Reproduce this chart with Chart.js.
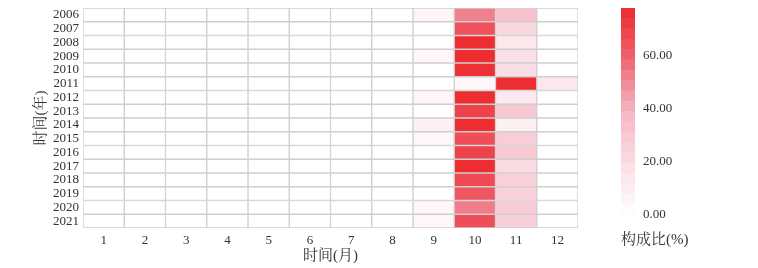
<!DOCTYPE html>
<html><head><meta charset="utf-8">
<script src="https://cdn.jsdelivr.net/npm/chart.js@4/dist/chart.umd.min.js"></script>
<style>
html,body{margin:0;padding:0;background:#fff;}
#wrap{position:relative;width:758px;height:268px;}
#main{position:absolute;left:0;top:0;}
#bar{position:absolute;left:600px;top:0;}
</style></head><body>
<div id="wrap">
<canvas id="main" width="600" height="268"></canvas>
<canvas id="bar" width="158" height="268"></canvas>
</div>
<script>
const years = ['2006','2007','2008','2009','2010','2011','2012','2013','2014','2015','2016','2017','2018','2019','2020','2021'];
const months = ['1','2','3','4','5','6','7','8','9','10','11','12'];
const janToAug = [0,0,0,0,0,0,0,0,0,0,0,0,0,0,0,0];
const sep = [6,0,0,5,0,0,5,0,8,5,0,0,0,0,5,5];
const oct = [52,65,77,77,76,5,77,70,77,66,70,77,67,63,53,66];
const nov = [33,22,14,18,18,77,13,30,9,27,29,20,25,25,27,26];
const dec = [0,0,0,0,0,14,0,0,0,0,0,0,0,0,0,0];
const colorbarTicks = [0,20,40,60];
const colorMax = 78;
const colorSteps = 20;

const monthValues = [janToAug,janToAug,janToAug,janToAug,janToAug,janToAug,janToAug,janToAug,sep,oct,nov,dec];

const stops = [[0,[255,255,255]],[0.15,[252,235,240]],[0.5,[245,182,195]],[0.77,[239,95,108]],[1,[238,42,46]]];
function colorFor(v){
  let t = Math.max(0, Math.min(1, v/colorMax));
  for (let i=1;i<stops.length;i++){
    if (t <= stops[i][0]){
      const a = stops[i-1], b = stops[i];
      const f = (t-a[0])/(b[0]-a[0]);
      const c = a[1].map((x,k)=>Math.round(x+(b[1][k]-x)*f));
      return `rgb(${c[0]},${c[1]},${c[2]})`;
    }
  }
  return 'rgb(238,42,46)';
}

const FONT = "'Liberation Serif','Noto Serif CJK SC','Noto Sans CJK SC',serif";
Chart.defaults.font.family = FONT;
Chart.defaults.font.size = 13;
Chart.defaults.color = '#333';
const TITLE_FONT = {family: FONT, size: 15, weight: 'normal'};

function zeroPad(s){ s.paddingTop = 0; s.paddingBottom = 0; s.paddingLeft = 0; s.paddingRight = 0; }

new Chart(document.getElementById('main'), {
  type: 'bar',
  data: {
    labels: years,
    datasets: months.map((m,i)=>({
      label: m,
      data: years.map(()=>[i, i+1]),
      backgroundColor: monthValues[i].map(colorFor),
      borderColor: '#cfcfcf',
      borderWidth: 1,
      borderSkipped: false,
      barPercentage: 1,
      categoryPercentage: 1,
      grouped: false
    }))
  },
  options: {
    indexAxis: 'y',
    responsive: false,
    animation: false,
    devicePixelRatio: 1,
    layout: {padding: {top: 8, right: 22, left: 0, bottom: 0}},
    plugins: {legend: {display: false}, tooltip: {enabled: false}},
    scales: {
      x: {
        type: 'linear', min: 0, max: 12,
        grid: {display: false, drawTicks: false, tickLength: 0}, border: {display: false},
        afterBuildTicks: s => { s.ticks = months.map((m,i)=>({value: i+0.5})); },
        ticks: {autoSkip: false, maxRotation: 0, padding: 5, callback: (v,i)=>months[i]},
        title: {display: true, text: '时间(月)', font: TITLE_FONT, padding: {top: 0, bottom: 3}},
        afterFit: s => { s.height = 40; zeroPad(s); }
      },
      y: {
        type: 'category',
        grid: {display: false, drawTicks: false, tickLength: 0}, border: {display: false},
        ticks: {autoSkip: false, padding: 4},
        title: {display: true, text: '时间(年)', font: TITLE_FONT, padding: {top: 32, bottom: 0}},
        afterFit: s => { s.width = 83; zeroPad(s); }
      }
    }
  }
});

const segs = [];
for (let k=0;k<colorSteps;k++){
  const lo = k*colorMax/colorSteps, hi = (k+1)*colorMax/colorSteps;
  segs.push({data: [[lo, hi]], backgroundColor: colorFor((lo+hi)/2), borderWidth: 0, barPercentage: 1, categoryPercentage: 1, grouped: false});
}

new Chart(document.getElementById('bar'), {
  type: 'bar',
  data: {labels: [''], datasets: segs},
  options: {
    responsive: false,
    animation: false,
    devicePixelRatio: 1,
    layout: {padding: {top: 8, left: 21, right: 0, bottom: 0}},
    plugins: {
      legend: {display: false}, tooltip: {enabled: false},
      title: {display: true, text: '构成比(%)', position: 'bottom', align: 'start',
              font: TITLE_FONT, color: '#333',
              padding: {top: 16, bottom: 19}}
    },
    scales: {
      x: {display: false},
      y: {
        type: 'linear', position: 'right', min: 0, max: colorMax,
        grid: {display: false, drawTicks: false, tickLength: 0}, border: {display: false},
        afterBuildTicks: s => { s.ticks = colorbarTicks.map(v=>({value: v})); },
        ticks: {padding: 8, callback: v => Number(v).toFixed(2)},
        afterFit: s => { s.width = 123; zeroPad(s); }
      }
    }
  }
});
</script>
</body></html>
